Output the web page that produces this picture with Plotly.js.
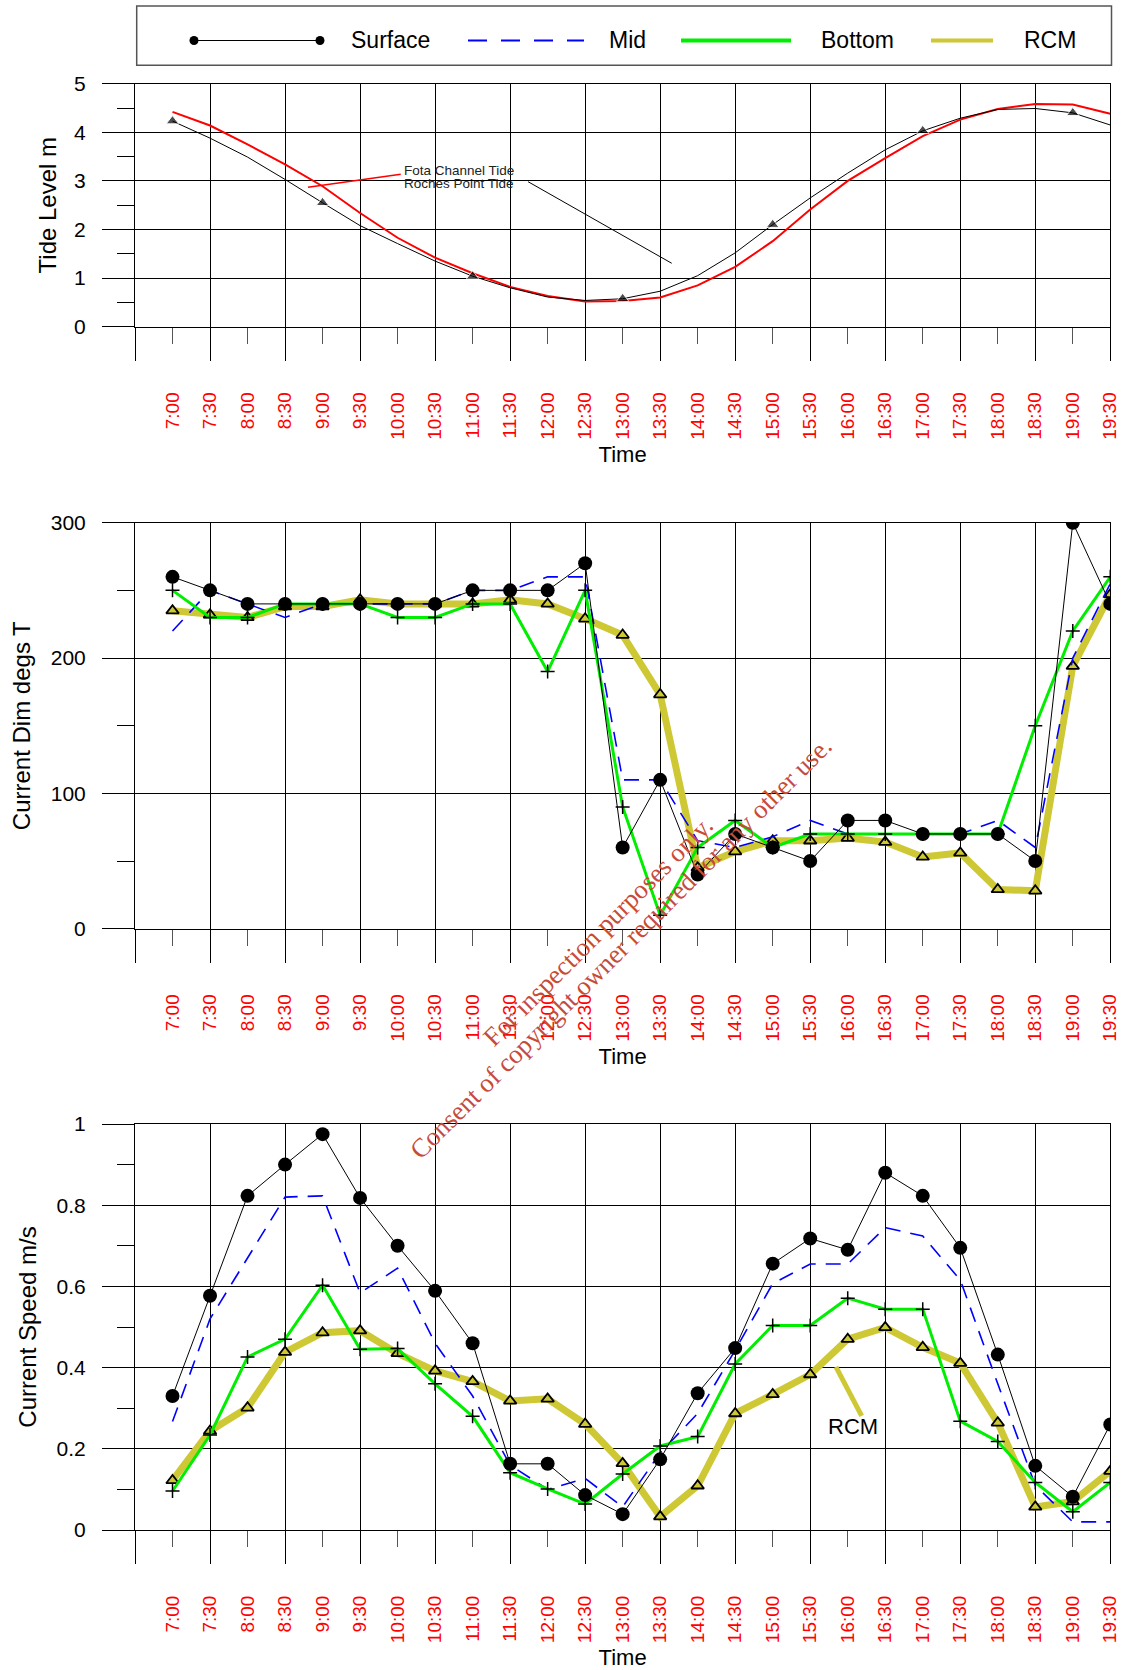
<!DOCTYPE html>
<html>
<head>
<meta charset="utf-8">
<script src="https://cdn.plot.ly/plotly-3.0.1.min.js"></script>
<style>
  html, body { margin: 0; padding: 0; background: #fff; }
  #chart { width: 1125px; height: 1670px; }
</style>
</head>
<body>
<div id="chart"></div>
<script>
// ---- data -------------------------------------------------------------
const timeLabels = ['7:00','7:30','8:00','8:30','9:00','9:30','10:00','10:30','11:00','11:30',
  '12:00','12:30','13:00','13:30','14:00','14:30','15:00','15:30','16:00','16:30',
  '17:00','17:30','18:00','18:30','19:00','19:30'];
const gridTimes = ['6:30','7:30','8:30','9:30','10:30','11:30','12:30','13:30','14:30',
  '15:30','16:30','17:30','18:30','19:30'];

const seriesNames = ['Surface', 'Mid', 'Bottom', 'RCM'];
const tideNames = ['Fota Channel Tide', 'Roches Point Tide'];

// tide level (m)
const tideFota = [4.42, 4.14, 3.75, 3.34, 2.89, 2.34, 1.83, 1.42, 1.10, 0.82,
  0.63, 0.52, 0.53, 0.60, 0.85, 1.23, 1.76, 2.41, 3.00, 3.47,
  3.92, 4.26, 4.48, 4.58, 4.57, 4.38];
const tideRoches = [4.23, 3.88, 3.49, 3.03, 2.55, 2.08, 1.71, 1.35, 1.04, 0.80,
  0.61, 0.54, 0.575, 0.73, 1.05, 1.52, 2.10, 2.65, 3.16, 3.64,
  4.03, 4.29, 4.47, 4.49, 4.40, 4.15];

// current direction (degrees true)
const dirSurface = [260, 250, 240, 240, 240, 240, 240, 240, 250, 250,
  250, 270, 60, 110, 40, 70, 60, 50, 80, 80,
  70, 70, 70, 50, 300, 240];
const dirMid = [220, 250, 240, 230, 240, 240, 240, 240, 250, 250,
  260, 260, 110, 110, 65, 60, 68, 80, 70, 70,
  70, 70, 80, 60, 200, 255];
const dirBottom = [250, 230, 230, 240, 240, 240, 230, 230, 240, 240,
  190, 250, 90, 10, 60, 80, 60, 70, 70, 70,
  70, 70, 70, 150, 220, 260];
const dirRCM = [235, 232, 230, 238, 238, 243, 240, 240, 240, 243,
  240, 229, 217, 173, 45, 57, 65, 65, 67, 64,
  53, 56, 29, 28, 194, 247];

// current speed (m/s)
const spdSurface = [0.33, 0.577, 0.823, 0.90, 0.975, 0.818, 0.70, 0.589, 0.46, 0.163,
  0.163, 0.086, 0.039, 0.174, 0.337, 0.448, 0.656, 0.718, 0.69, 0.88,
  0.823, 0.695, 0.432, 0.158, 0.082, 0.26];
const spdMid = [0.267, 0.52, 0.67, 0.82, 0.823, 0.584, 0.645, 0.46, 0.33, 0.16,
  0.10, 0.127, 0.057, 0.19, 0.287, 0.443, 0.607, 0.655, 0.655, 0.745,
  0.724, 0.616, 0.36, 0.11, 0.02, 0.02];
const spdBottom = [0.096, 0.234, 0.426, 0.47, 0.603, 0.445, 0.447, 0.36, 0.28, 0.141,
  0.101, 0.064, 0.138, 0.207, 0.23, 0.409, 0.504, 0.504, 0.571, 0.544,
  0.544, 0.268, 0.218, 0.117, 0.045, 0.117];
const spdRCM = [0.122, 0.244, 0.301, 0.438, 0.486, 0.491, 0.435, 0.392, 0.366, 0.318,
  0.323, 0.261, 0.164, 0.033, 0.109, 0.287, 0.334, 0.383, 0.47, 0.499,
  0.45, 0.411, 0.264, 0.057, 0.07, 0.145];

// ---- helpers ----------------------------------------------------------
const W = 1125, H = 1670;
const M = { l: 0, r: 14, t: 14, b: 14 };
const PW = W - M.l - M.r, PH = H - M.t - M.b;
const toHours = t => { const p = t.split(':').map(Number); return p[0] + p[1] / 60; };
const hours = timeLabels.map(toHours);
const gridHours = gridTimes.map(toHours);
const px = v => (v - M.l) / PW;        // figure pixel -> paper x
const py = v => 1 - (v - M.t) / PH;    // figure pixel -> paper y

const SANS = 'Liberation Sans, Arial, Helvetica, sans-serif';
const SERIF = 'Liberation Serif, Times New Roman, serif';
const RCM_COLOR = 'rgb(206,200,52)';
const GREEN = '#00ee00';
const BLUE = '#0000ff';

const X_DOMAIN = [px(135), px(1110.3)];
const X_RANGE = [6.5, 19.5];
const panels = [
  { top: 83.7,  bottom: 326.7, range: [0, 5],   dtick: 1,   title: 'Tide Level m',       standoff: 10 },
  { top: 522.7, bottom: 928.7, range: [0, 300], dtick: 100, title: 'Current Dim degs T', standoff: 13 },
  { top: 1124,  bottom: 1530,  range: [0, 1],   dtick: 0.2, title: 'Current Speed m/s',  standoff: 13 }
];

function labeledX(anchor) {
  return {
    domain: X_DOMAIN, anchor: anchor, range: X_RANGE, type: 'linear',
    tickmode: 'array', tickvals: hours, ticktext: timeLabels, tickangle: -90,
    ticks: 'outside', ticklen: 16, tickwidth: 1, tickcolor: '#555',
    ticklabelstandoff: 41,
    tickfont: { family: SANS, size: 19, color: '#ff0000' },
    showgrid: false, zeroline: false,
    showline: true, mirror: true, linecolor: '#000', linewidth: 1,
    title: { text: 'Time', font: { family: SANS, size: 22, color: '#000' }, standoff: 7 },
    automargin: true, fixedrange: true
  };
}
function gridX(overlay, anchor) {
  return {
    overlaying: overlay, anchor: anchor, range: X_RANGE, type: 'linear',
    tickmode: 'array', tickvals: gridHours,
    ticks: 'outside', ticklen: 33, tickwidth: 1, tickcolor: '#000',
    showticklabels: false, showgrid: true, gridcolor: '#000', gridwidth: 1,
    zeroline: false, showline: false, automargin: false, fixedrange: true
  };
}
function yAxis(p, anchor) {
  return {
    domain: [py(p.bottom), py(p.top)], anchor: anchor, range: p.range, type: 'linear',
    tickmode: 'linear', tick0: 0, dtick: p.dtick,
    ticks: 'outside', ticklen: 32, tickwidth: 1, tickcolor: '#000',
    minor: { ticks: 'outside', ticklen: 17, tickwidth: 1, tickcolor: '#000',
             tick0: 0, dtick: p.dtick / 2, showgrid: false },
    showgrid: true, gridcolor: '#000', gridwidth: 1, zeroline: false,
    showline: true, mirror: true, linecolor: '#000', linewidth: 1,
    tickfont: { family: SANS, size: 21, color: '#000' }, ticklabelstandoff: 12,
    title: { text: p.title, font: { family: SANS, size: 24, color: '#000' }, standoff: p.standoff },
    automargin: true, fixedrange: true
  };
}

// ---- traces -----------------------------------------------------------
const traces = [];

// tide panel
traces.push({
  x: hours, y: tideFota, xaxis: 'x', yaxis: 'y', name: tideNames[0],
  mode: 'lines', line: { color: '#ff0000', width: 2 }, showlegend: false
});
traces.push({
  x: hours, y: tideRoches, xaxis: 'x4', yaxis: 'y', name: tideNames[1],
  mode: 'lines+markers', line: { color: '#000', width: 1 },
  marker: { symbol: 'triangle-up', color: '#000', size: hours.map((h, i) => i % 4 === 0 ? 11 : 0) },
  showlegend: false
});

function currentTraces(xa, xg, ya, surface, mid, bottom, rcm) {
  return [
    { x: hours, y: rcm, xaxis: xa, yaxis: ya, name: seriesNames[3], mode: 'lines+markers',
      line: { color: RCM_COLOR, width: 7 },
      marker: { symbol: 'triangle-up', size: 11, color: RCM_COLOR, line: { color: '#000', width: 1.8 } },
      showlegend: false },
    { x: hours, y: mid, xaxis: xa, yaxis: ya, name: seriesNames[1], mode: 'lines',
      line: { color: BLUE, width: 1.6, dash: '15px,10px' }, showlegend: false },
    { x: hours, y: bottom, xaxis: xa, yaxis: ya, name: seriesNames[2], mode: 'lines+markers',
      line: { color: GREEN, width: 3 },
      marker: { symbol: 'cross-thin-open', size: 10, color: '#000', line: { color: '#000', width: 1.5 } },
      showlegend: false },
    { x: hours, y: surface, xaxis: xg, yaxis: ya, name: seriesNames[0], mode: 'lines+markers',
      line: { color: '#000', width: 1 },
      marker: { symbol: 'circle', size: 14, color: '#000' }, showlegend: false }
  ];
}
traces.push(...currentTraces('x2', 'x5', 'y2', dirSurface, dirMid, dirBottom, dirRCM));
traces.push(...currentTraces('x3', 'x6', 'y3', spdSurface, spdMid, spdBottom, spdRCM));

// ---- legend box, leader lines, notes ----------------------------------
const LEG_Y = py(40.5);
const shapes = [
  { type: 'rect', xref: 'paper', yref: 'paper', x0: px(136.7), x1: px(1111.5), y0: py(65.3), y1: py(6),
    line: { color: '#555', width: 1.5 }, fillcolor: 'rgba(0,0,0,0)' },
  { type: 'line', xref: 'paper', yref: 'paper', x0: px(194), x1: px(320), y0: LEG_Y, y1: LEG_Y,
    line: { color: '#000', width: 1 } },
  { type: 'line', xref: 'paper', yref: 'paper', x0: px(468), x1: px(584), y0: LEG_Y, y1: LEG_Y,
    line: { color: BLUE, width: 2, dash: '19px,14px' } },
  { type: 'line', xref: 'paper', yref: 'paper', x0: px(681), x1: px(791), y0: LEG_Y, y1: LEG_Y,
    line: { color: GREEN, width: 4 } },
  { type: 'line', xref: 'paper', yref: 'paper', x0: px(931), x1: px(993), y0: LEG_Y, y1: LEG_Y,
    line: { color: RCM_COLOR, width: 4 } },
  // tide panel leader lines
  { type: 'line', xref: 'x', yref: 'y', x0: 8.806, y0: 2.868, x1: 10.042, y1: 3.136,
    line: { color: '#ff0000', width: 1.5 } },
  { type: 'line', xref: 'x', yref: 'y', x0: 11.739, y0: 2.984, x1: 13.654, y1: 1.305,
    line: { color: '#000', width: 1 } },
  // RCM leader in speed panel
  { type: 'line', xref: 'x3', yref: 'y3', x0: 15.843, y0: 0.402, x1: 16.186, y1: 0.281,
    line: { color: RCM_COLOR, width: 5 } }
];
[194, 320].forEach(cx => shapes.push({
  type: 'circle', xref: 'paper', yref: 'paper', xsizemode: 'pixel', ysizemode: 'pixel',
  xanchor: px(cx), yanchor: LEG_Y, x0: -4.5, x1: 4.5, y0: -4.5, y1: 4.5,
  fillcolor: '#000', line: { width: 0 }
}));

const legendTextX = [349, 607, 819, 1022];
const annotations = seriesNames.map((n, i) => ({
  xref: 'paper', yref: 'paper', x: px(legendTextX[i]), y: LEG_Y, xanchor: 'left', yanchor: 'middle',
  text: n, showarrow: false, font: { family: SANS, size: 23, color: '#000' }
}));
annotations.push(
  { xref: 'x', yref: 'y', x: 10.06, y: 3.22, xanchor: 'left', yanchor: 'middle', showarrow: false,
    text: tideNames[0], font: { family: SANS, size: 13.5, color: '#222' } },
  { xref: 'x', yref: 'y', x: 10.06, y: 2.95, xanchor: 'left', yanchor: 'middle', showarrow: false,
    text: tideNames[1], font: { family: SANS, size: 13.5, color: '#222' } },
  { xref: 'x3', yref: 'y3', x: 16.076, y: 0.254, xanchor: 'center', yanchor: 'middle', showarrow: false,
    text: 'RCM', font: { family: SANS, size: 22, color: '#000' } },
  { xref: 'paper', yref: 'paper', x: px(598), y: py(931), xanchor: 'center', yanchor: 'middle',
    showarrow: false, textangle: -45, text: 'For inspection purposes only.',
    font: { family: SERIF, size: 26.5, color: 'rgb(200,75,55)' } },
  { xref: 'paper', yref: 'paper', x: px(620.5), y: py(948), xanchor: 'center', yanchor: 'middle',
    showarrow: false, textangle: -45, text: 'Consent of copyright owner required for any other use.',
    font: { family: SERIF, size: 26.5, color: 'rgb(200,75,55)' } }
);

// ---- layout -----------------------------------------------------------
const layout = {
  width: W, height: H,
  margin: { l: M.l, r: M.r, t: M.t, b: M.b, pad: 0 },
  paper_bgcolor: '#fff', plot_bgcolor: '#fff',
  showlegend: false,
  font: { family: SANS, color: '#000' },
  xaxis: labeledX('y'), xaxis2: labeledX('y2'), xaxis3: labeledX('y3'),
  xaxis4: gridX('x', 'y'), xaxis5: gridX('x2', 'y2'), xaxis6: gridX('x3', 'y3'),
  yaxis: yAxis(panels[0], 'x'), yaxis2: yAxis(panels[1], 'x2'), yaxis3: yAxis(panels[2], 'x3'),
  shapes: shapes,
  annotations: annotations
};

Plotly.newPlot('chart', traces, layout, { staticPlot: true, displayModeBar: false });
</script>
</body>
</html>
